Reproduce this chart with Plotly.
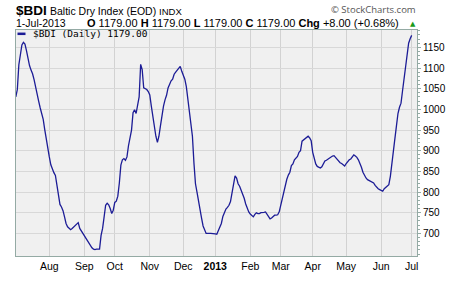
import plotly.graph_objects as go

# ---------------- data ----------------
dates = [
    "2012-07-02", "2012-07-03", "2012-07-04", "2012-07-05", "2012-07-06", "2012-07-09", "2012-07-10",
    "2012-07-11", "2012-07-12", "2012-07-13", "2012-07-16", "2012-07-17", "2012-07-18", "2012-07-19",
    "2012-07-20", "2012-07-23", "2012-07-24", "2012-07-25", "2012-07-26", "2012-07-27", "2012-07-30",
    "2012-07-31", "2012-08-01", "2012-08-02", "2012-08-03", "2012-08-06", "2012-08-07", "2012-08-08",
    "2012-08-09", "2012-08-10", "2012-08-13", "2012-08-14", "2012-08-15", "2012-08-16", "2012-08-17",
    "2012-08-20", "2012-08-21", "2012-08-22", "2012-08-23", "2012-08-24", "2012-08-27", "2012-08-28",
    "2012-08-29", "2012-08-30", "2012-08-31", "2012-09-03", "2012-09-04", "2012-09-05", "2012-09-06",
    "2012-09-07", "2012-09-10", "2012-09-11", "2012-09-12", "2012-09-13", "2012-09-14", "2012-09-17",
    "2012-09-18", "2012-09-19", "2012-09-20", "2012-09-21", "2012-09-24", "2012-09-25", "2012-09-26",
    "2012-09-27", "2012-09-28", "2012-10-01", "2012-10-02", "2012-10-03", "2012-10-04", "2012-10-05",
    "2012-10-08", "2012-10-09", "2012-10-10", "2012-10-11", "2012-10-12", "2012-10-15", "2012-10-16",
    "2012-10-17", "2012-10-18", "2012-10-19", "2012-10-22", "2012-10-23", "2012-10-24", "2012-10-25",
    "2012-10-26", "2012-10-29", "2012-10-30", "2012-10-31", "2012-11-01", "2012-11-02", "2012-11-05",
    "2012-11-06", "2012-11-07", "2012-11-08", "2012-11-09", "2012-11-12", "2012-11-13", "2012-11-14",
    "2012-11-15", "2012-11-16", "2012-11-19", "2012-11-20", "2012-11-21", "2012-11-22", "2012-11-23",
    "2012-11-26", "2012-11-27", "2012-11-28", "2012-11-29", "2012-11-30", "2012-12-03", "2012-12-04",
    "2012-12-05", "2012-12-06", "2012-12-07", "2012-12-10", "2012-12-11", "2012-12-12", "2012-12-13",
    "2012-12-14", "2012-12-17", "2012-12-18", "2012-12-19", "2012-12-20", "2012-12-21", "2012-12-24",
    "2012-12-27", "2012-12-28", "2012-12-31", "2013-01-01", "2013-01-02", "2013-01-03", "2013-01-04",
    "2013-01-07", "2013-01-08", "2013-01-09", "2013-01-10", "2013-01-11", "2013-01-14", "2013-01-15",
    "2013-01-16", "2013-01-17", "2013-01-18", "2013-01-21", "2013-01-22", "2013-01-23", "2013-01-24",
    "2013-01-25", "2013-01-28", "2013-01-29", "2013-01-30", "2013-01-31", "2013-02-01", "2013-02-04",
    "2013-02-05", "2013-02-06", "2013-02-07", "2013-02-08", "2013-02-11", "2013-02-12", "2013-02-13",
    "2013-02-14", "2013-02-15", "2013-02-18", "2013-02-19", "2013-02-20", "2013-02-21", "2013-02-22",
    "2013-02-25", "2013-02-26", "2013-02-27", "2013-02-28", "2013-03-01", "2013-03-04", "2013-03-05",
    "2013-03-06", "2013-03-07", "2013-03-08", "2013-03-11", "2013-03-12", "2013-03-13", "2013-03-14",
    "2013-03-15", "2013-03-18", "2013-03-19", "2013-03-20", "2013-03-21", "2013-03-22", "2013-03-25",
    "2013-03-26", "2013-03-27", "2013-03-28", "2013-03-29", "2013-04-01", "2013-04-02", "2013-04-03",
    "2013-04-04", "2013-04-05", "2013-04-08", "2013-04-09", "2013-04-10", "2013-04-11", "2013-04-12",
    "2013-04-15", "2013-04-16", "2013-04-17", "2013-04-18", "2013-04-19", "2013-04-22", "2013-04-23",
    "2013-04-24", "2013-04-25", "2013-04-26", "2013-04-29", "2013-04-30", "2013-05-01", "2013-05-02",
    "2013-05-03", "2013-05-06", "2013-05-07", "2013-05-08", "2013-05-09", "2013-05-10", "2013-05-13",
    "2013-05-14", "2013-05-15", "2013-05-16", "2013-05-17", "2013-05-20", "2013-05-21", "2013-05-22",
    "2013-05-23", "2013-05-24", "2013-05-27", "2013-05-28", "2013-05-29", "2013-05-30", "2013-05-31",
    "2013-06-03", "2013-06-04", "2013-06-05", "2013-06-06", "2013-06-07", "2013-06-10", "2013-06-11",
    "2013-06-12", "2013-06-13", "2013-06-14", "2013-06-17", "2013-06-18", "2013-06-19", "2013-06-20",
    "2013-06-21", "2013-06-24", "2013-06-25", "2013-06-26", "2013-06-27", "2013-06-28", "2013-07-01",
]
bdi_close = [
    1030, 1048, 1108, 1138, 1156, 1162, 1158,
    1142, 1119, 1106, 1095, 1086, 1072, 1052,
    1037, 1020, 1004, 991, 976, 951, 925,
    905, 885, 866, 855, 847, 840, 815,
    790, 770, 764, 755, 740, 724, 716,
    712, 709, 712, 715, 718, 722, 726,
    712, 706, 702, 694, 688, 681, 675,
    669, 665, 662, 661, 662, 662, 662,
    695, 712, 740, 768, 773, 769, 760,
    748, 756, 775, 778, 790, 822, 865,
    878, 881, 877, 885, 912, 933, 950,
    992, 999, 990, 1010, 1030, 1109, 1096,
    1052, 1050, 1048, 1043, 1035, 1008, 980,
    965, 935, 920, 935, 960, 988, 1008,
    1023, 1034, 1052, 1062, 1069, 1073, 1085,
    1090, 1095, 1099, 1104, 1092, 1084, 1073,
    1055, 1023, 990, 968, 935, 870, 820,
    800, 782, 764, 737, 718, 706, 700,
    700, 700, 700, 699, 698, 707, 712,
    724, 741, 751, 759, 763, 768, 777,
    798, 826, 839, 834, 820, 814, 805,
    796, 785, 771, 760, 752, 747, 743,
    740, 746, 750, 748, 748, 750, 750,
    751, 752, 747, 739, 735, 737, 741,
    744, 744, 745, 752, 768, 786, 805,
    820, 831, 841, 848, 864, 868, 878,
    881, 886, 896, 900, 923, 926, 930,
    934, 935, 931, 924, 896, 880, 868,
    862, 859, 858, 861, 870, 875, 877,
    880, 882, 885, 887, 888, 884, 879,
    874, 871, 869, 866, 863, 869, 874,
    878, 880, 886, 890, 887, 884, 878,
    870, 860, 848, 840, 834, 830, 828,
    826, 825, 822, 816, 811, 808, 806,
    804, 802, 808, 812, 815, 818, 838,
    865, 900, 930, 960, 990, 1005, 1015,
    1045, 1075, 1110, 1132, 1160, 1171, 1179,
]
month_tick_dates = ["2012-08-01", "2012-09-03", "2012-10-01", "2012-11-01", "2012-12-03", "2013-01-01",
                    "2013-02-01", "2013-03-01", "2013-04-01", "2013-05-01", "2013-06-03", "2013-07-01"]
month_tick_labels = ["Aug", "Sep", "Oct", "Nov", "Dec", "<b>2013</b>",
                     "Feb", "Mar", "Apr", "May", "Jun", "Jul"]
y_tick_vals = [700, 750, 800, 850, 900, 950, 1000, 1050, 1100, 1150]

# ---------------- layout constants ----------------
W, H = 460, 284
ML, MR, MT, MB = 16, 43, 30, 17
PW, PH = W - ML - MR, H - MT - MB
LINE_COLOR = "#1c1c96"
FRAME = "#94aaa4"
FONT = "Liberation Sans, Arial, sans-serif"


def px(x):
    return (x - ML) / PW


def py(y):
    return (H - MB - y) / PH


fig = go.Figure()
fig.add_trace(go.Scatter(x=dates, y=bdi_close, mode="lines",
                         line=dict(color=LINE_COLOR, width=1.3), showlegend=False,
                         hoverinfo="skip"))

fig.update_layout(
    width=W, height=H,
    margin=dict(l=ML, r=MR, t=MT, b=MB, pad=0),
    paper_bgcolor="white", plot_bgcolor="#f0f0f0",
    font=dict(family=FONT, size=10, color="black"),
    showlegend=False,
    xaxis=dict(
        type="date",
        range=["2012-07-02 03:00", "2013-07-04 12:00"],
        rangebreaks=[dict(bounds=["sat", "mon"])],
        tickmode="array", tickvals=month_tick_dates, ticktext=month_tick_labels,
        showgrid=True, gridcolor="#d2d2d2", gridwidth=1,
        showline=True, linecolor=FRAME, linewidth=1, mirror=True,
        ticks="", tickfont=dict(size=10.5, family=FONT), zeroline=False,
        fixedrange=True,
    ),
    yaxis=dict(
        side="right",
        range=[645.3, 1192],
        tickmode="array", tickvals=y_tick_vals,
        showgrid=True, gridcolor="#d8d8d8", gridwidth=1,
        showline=True, linecolor=FRAME, linewidth=1, mirror=True,
        ticks="outside", ticklen=3, tickcolor=FRAME,
        minor=dict(dtick=10, ticks="outside", ticklen=2, tickcolor=FRAME, showgrid=False),
        tickfont=dict(size=10, family=FONT), zeroline=False,
        fixedrange=True,
    ),
)

ann = []
ann.append(dict(text="<b>$BDI</b>", x=px(16), y=py(9.5), xanchor="left", yanchor="middle",
                font=dict(size=13.5, family=FONT)))
ann.append(dict(text='Baltic Dry Index (EOD) <span style="font-size:9.5px">INDX</span>', x=px(49.5), y=py(10.5),
                xanchor="left", yanchor="middle", font=dict(size=10.5, family=FONT)))
ann.append(dict(text="1-Jul-2013", x=px(16), y=py(23), xanchor="left", yanchor="middle",
                font=dict(size=10.5, family=FONT)))
ann.append(dict(text="<b>O</b> 1179.00 <b>H</b> 1179.00 <b>L</b> 1179.00 <b>C</b> 1179.00 <b>Chg</b> +8.00 (+0.68%)",
                x=px(86.5), y=py(23), xanchor="left", yanchor="middle",
                font=dict(size=11, family=FONT)))
ann.append(dict(text="▲", x=px(412.5), y=py(23.5), xanchor="center", yanchor="middle",
                font=dict(size=7, family="DejaVu Sans", color="#1a9a1a")))
ann.append(dict(text="© StockCharts.com", x=px(416), y=py(9), xanchor="right", yanchor="middle",
                font=dict(size=9.5, family="Open Sans, DejaVu Sans", color="#555555")))
ann.append(dict(text="$BDI (Daily) 1179.00", x=px(33), y=py(34), xanchor="left", yanchor="middle",
                font=dict(size=9.5, family="DejaVu Sans Mono", color="#000000")))
for a in ann:
    a.update(xref="paper", yref="paper", showarrow=False, borderpad=0, borderwidth=0)
fig.update_layout(annotations=ann)

fig.add_shape(type="line", xref="paper", yref="paper",
              x0=px(17.5), x1=px(25.5), y0=py(34), y1=py(34),
              line=dict(color=LINE_COLOR, width=2.5))

fig.write_html("out.html")
